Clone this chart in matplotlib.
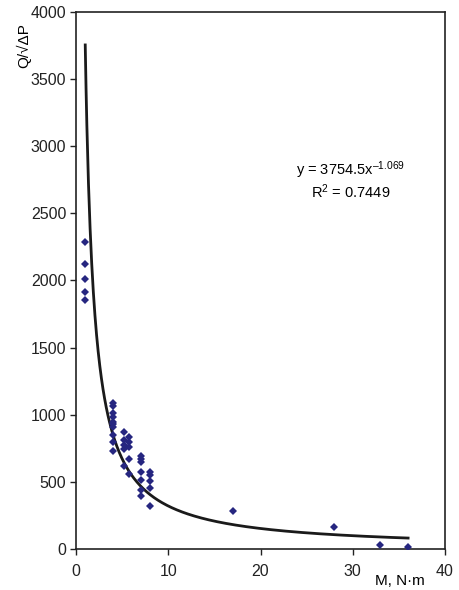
import numpy as np
import matplotlib.pyplot as plt

plt.rcParams['font.family'] = ['Liberation Sans', 'DejaVu Sans']
plt.rcParams['mathtext.fontset'] = 'custom'
plt.rcParams['mathtext.rm'] = 'Liberation Sans'
plt.rcParams['mathtext.it'] = 'Liberation Sans:italic'

# measured points (M, Q/sqrt(dP))
m_vals = [1, 1, 1, 1, 1,
          4, 4, 4, 4, 4, 4, 4, 4, 4, 4,
          5.2, 5.2, 5.2, 5.2, 5.2,
          5.75, 5.75, 5.75, 5.75, 5.75,
          7, 7, 7, 7, 7, 7, 7,
          8, 8, 8, 8, 8,
          17, 28, 33, 36]
q_vals = [2287, 2123, 2011, 1915, 1855,
          1085, 1065, 1015, 985, 948, 929, 911, 849, 800, 732,
          874, 812, 775, 743, 618,
          837, 800, 762, 670, 559,
          695, 670, 650, 576, 514, 440, 395,
          576, 551, 509, 457, 318,
          283, 162, 30, 17]

# power fit shown on the chart
fit_a = 3754.5
fit_b = -1.069
fit_x = np.linspace(1, 36, 400)
fit_y = fit_a * fit_x ** fit_b

fig = plt.figure(figsize=(4.59, 5.90), dpi=100)
ax = fig.add_axes([0.1656, 0.0695, 0.8039, 0.9102])

ax.plot(fit_x, fit_y, color='#1a1a1a', lw=2, zorder=2)
ax.plot(m_vals, q_vals, 'D', color='#262680', markersize=3.9, zorder=3, markeredgewidth=0)

ax.set_xlim(0, 40)
ax.set_ylim(0, 4000)
ax.set_xticks([0, 10, 20, 30, 40])
ax.set_yticks(np.arange(0, 4001, 500))
ax.tick_params(direction='out', length=4, width=1, labelsize=11.5, colors='#222222')
ax.tick_params(axis='x', pad=7)
ax.tick_params(axis='y', pad=3)
for s in ax.spines.values():
    s.set_linewidth(1.2)
    s.set_color('#222222')

ax.text(29.8, 2822, 'y = 3754.5x$^{\\mathregular{–1.069}}$', ha='center', va='center', fontsize=10.5)
ax.text(29.8, 2660, 'R$^{\\mathregular{2}}$ = 0.7449', ha='center', va='center', fontsize=10.5)

fig.text(400 / 459, 1 - 581 / 590, 'M, N·m', ha='center', va='center', fontsize=11)
fig.text(24 / 459, 1 - 46 / 590, 'Q/√ΔP', ha='center', va='center', rotation=90, fontsize=11)

fig.savefig('out.png', dpi=100)
